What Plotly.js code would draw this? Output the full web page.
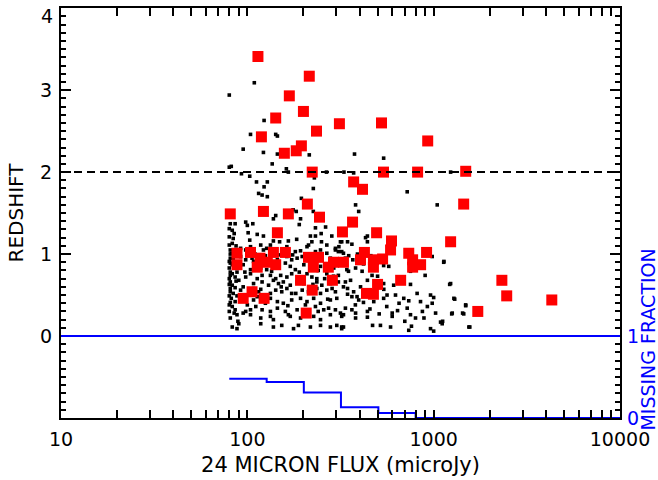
<!DOCTYPE html>
<html>
<head>
<meta charset="utf-8">
<script src="https://cdn.plot.ly/plotly-3.0.1.min.js"></script>
<style>html,body{margin:0;padding:0;background:#fff;}#chart{width:658px;height:480px;}</style>
</head>
<body>
<div id="chart"></div>
<script>
// ---- data ----
// all 24 micron sources: flux (microJy) and redshift
const allFlux = [
109,80,123,104,142,145,95,122,145,215,376,539,
136,82,80,162,93,103,166,266,330,372,1233,
229,112,128,123,226,721,115,120,128,195,
381,1045,396,176,183,226,142,138,193,190,232,263,
81,86,98,107,100,83,101,113,122,138,149,166,184,218,232,249,284,316,250,222,310,84,83,103,104,118,133,163,213,267,297,
431,441,441,321,345,364,
81,82,92,98,122,127,166,181,193,209,232,247,267,297,308,328,
81,84,92,98,106,108,122,145,163,173,185,197,213,247,279,316,336,
81,83,86,95,104,111,118,127,147,160,170,181,201,232,247,291,321,
81,83,86,98,104,113,120,133,142,151,163,173,188,209,222,236,267,308,
81,83,90,95,108,120,130,138,147,156,170,185,201,218,236,251,279,308,328,
81,84,92,108,115,133,142,153,163,173,197,213,236,247,267,297,
82,86,108,113,133,145,156,173,193,209,227,247,279,302,
83,86,98,104,111,120,133,145,160,166,185,232,257,273,297,316,
88,95,104,118,133,138,170,193,227,247,279,321,
83,90,88,118,138,153,177,188,218,247,279,302,321,
321,368,381,342,349,413,539,574,751,982,1135,467,441,336,358,539,751,405,1233,
372,431,345,364,388,396,562,624,539,477,652,691,735,815,850,962,982,1284,1485,
336,364,381,441,721,925,328,381,441,599,599,751,799,887,1024,1258,1430,
518,470,587,328,321,735,962,1000,1089,1111,1545,
1132,1219,1297,1486,1250,1450,1117,1563,
80,80,80,81,80,80,81,80,80,81,80,81,80,80,81,85,87,86,88,87,86,88,85,89,
110,125,150,175,205,228,97,135,190,240,118,152,182,225,260,100,125,165,205,240,270,285,290,300,
350,390,420,460,500,540,610,345,380,420,455,510,560,640,700,760,870,1000,900
];
const allZ = [
3.09,2.94,2.63,2.46,2.46,2.44,2.28,2.24,2.22,2.21,2.22,2.17,
2.10,2.07,2.06,2.04,1.98,1.95,2.00,2.00,2.00,1.99,2.00,
1.93,1.88,1.88,1.82,1.80,1.76,1.74,1.72,1.70,1.68,
1.60,1.60,1.52,1.54,1.52,1.52,1.47,1.43,1.43,1.36,1.32,1.33,
1.37,1.37,1.39,1.37,1.35,1.29,1.26,1.24,1.22,1.16,1.15,1.16,1.18,1.22,1.22,1.25,1.22,1.15,1.15,1.15,1.09,1.19,1.13,1.17,1.09,1.11,1.11,1.09,1.11,1.11,1.07,
1.20,1.22,1.15,1.15,1.15,1.12,
1.05,1.01,1.07,1.05,1.05,1.07,1.05,1.03,1.04,1.09,1.03,1.05,1.01,1.05,1.03,1.01,
0.95,0.93,0.97,0.93,0.95,0.91,0.95,0.93,0.97,0.93,0.95,0.97,0.93,0.93,0.95,0.93,0.95,
0.89,0.87,0.83,0.87,0.81,0.89,0.83,0.81,0.83,0.89,0.85,0.81,0.87,0.81,0.85,0.83,0.87,
0.74,0.76,0.72,0.72,0.76,0.70,0.74,0.74,0.70,0.74,0.72,0.76,0.72,0.76,0.72,0.70,0.76,0.74,
0.66,0.62,0.68,0.60,0.64,0.66,0.62,0.68,0.64,0.66,0.62,0.66,0.64,0.60,0.66,0.62,0.64,0.66,0.60,
0.58,0.52,0.56,0.58,0.54,0.52,0.56,0.54,0.58,0.52,0.56,0.54,0.58,0.52,0.56,0.54,
0.46,0.42,0.44,0.48,0.46,0.42,0.40,0.44,0.46,0.42,0.46,0.40,0.44,0.46,
0.36,0.32,0.30,0.32,0.36,0.32,0.30,0.34,0.30,0.26,0.32,0.36,0.32,0.34,0.32,0.28,
0.26,0.28,0.26,0.22,0.24,0.20,0.24,0.22,0.24,0.20,0.26,0.24,
0.11,0.15,0.09,0.15,0.11,0.13,0.09,0.13,0.11,0.13,0.11,0.13,0.11,
1.03,0.93,0.83,0.81,0.79,0.79,0.86,0.85,0.79,0.97,0.91,0.74,0.68,0.66,0.68,0.64,0.63,0.60,0.64,
0.54,0.54,0.51,0.48,0.48,0.44,0.50,0.50,0.46,0.42,0.40,0.46,0.43,0.52,0.42,0.50,0.40,0.46,0.38,
0.34,0.32,0.28,0.30,0.34,0.36,0.26,0.22,0.23,0.28,0.24,0.26,0.22,0.22,0.28,0.28,0.28,
0.13,0.13,0.11,0.11,0.09,0.07,0.09,0.06,0.17,0.15,0.11,
0.90,0.63,0.45,0.37,0.27,0.27,0.18,0.11,
1.31,1.21,1.11,1.00,0.91,0.83,0.78,0.70,0.63,0.54,0.49,0.41,0.38,0.30,0.22,1.25,1.10,1.00,0.78,0.67,0.59,0.49,0.28,0.18,
1.00,0.98,0.99,0.99,1.00,0.99,0.78,0.79,0.78,0.80,0.57,0.60,0.52,0.63,0.70,0.38,0.40,0.37,0.38,0.30,0.45,0.58,0.73,0.88,
0.98,1.00,0.88,0.98,0.73,0.57,0.62,0.58,0.38,0.41,0.33,0.27,0.36,0.31,0.18,0.12,0.30,0.47,0.74
];
// highlighted sources (red squares)
const redFlux = [
114,215,168,200,142,235,312,525,929,119,195,183,158,
223,538,820,1486,372,415,1449,
210,244,81,122,166,145,324,367,494,594,1233,
916,735,587,425,405,475,532,328,475,771,771,851,665,500,436,475,
88,104,138,160,213,241,290,88,113,128,142,117,226,272,193,286,223,106,95,123,207,
2323,2466,4305,1725
];
const redZ = [
3.41,3.17,2.93,2.74,2.66,2.50,2.59,2.60,2.38,2.43,2.32,2.26,2.23,
2.00,2.00,2.00,2.01,1.88,1.79,1.61,
1.61,1.45,1.49,1.52,1.49,1.26,1.27,1.39,1.26,1.16,1.15,
1.02,1.01,1.05,1.02,0.93,0.93,0.94,0.90,0.84,0.93,0.84,0.87,0.68,0.63,0.52,0.51,
1.01,1.02,1.02,1.02,0.96,0.96,0.90,0.87,0.84,0.90,0.87,0.95,0.84,0.84,0.68,0.68,0.56,0.54,0.46,0.46,0.28,
0.68,0.49,0.44,0.30
];
// missing fraction histogram (bin edges in microJy, fraction per bin)
const missEdges = [80,127,201,318,505,800,10000];
const missFrac  = [0.48,0.44,0.31,0.13,0.06,0,0];
const xTickVals = [10,100,1000,10000];
const xTickText = ['10','100','1000','10000'];
const yTickVals = [0,1,2,3,4];
const yTickText = ['0','1','2','3','4'];
const fracTickVals = [0,1];
const zCut = 2;

// ---- chart ----
const FONT = 'DejaVu Sans, sans-serif';
const yMax = yTickVals[yTickVals.length - 1];
// top label is drawn just below the frame (as in the original plot)
const yTickTextShown = yTickText.map((t, i) => i === yTickText.length - 1 ? '' : t);

const traces = [
  {x: missEdges, y: missFrac, yaxis:'y2', type:'scatter', mode:'lines',
   line:{shape:'hv', color:'#0000ff', width:2}, hoverinfo:'skip'},
  {x: allFlux, y: allZ, type:'scatter', mode:'markers',
   marker:{symbol:'square', size:3.6, color:'#000000', line:{width:0}}},
  {x: redFlux, y: redZ, type:'scatter', mode:'markers',
   marker:{symbol:'square', size:11, color:'#ff0000', line:{width:0}}}
];
const axisCommon = {
  showline:true, linecolor:'#000', linewidth:2, mirror:'allticks',
  ticks:'inside', tickcolor:'#000', tickwidth:2,
  showgrid:false, zeroline:false, ticklabeloverflow:'allow',
  tickfont:{family:FONT, size:19, color:'#000'}
};
const layout = {
  width:658, height:480,
  margin:{l:61, r:38, t:8, b:62},
  paper_bgcolor:'#fff', plot_bgcolor:'#fff',
  showlegend:false,
  xaxis: Object.assign({}, axisCommon, {
    type:'log', range:[1,4], tickmode:'array', tickvals:xTickVals, ticktext:xTickText,
    ticklen:8, ticklabelstandoff:3,
    minor:{dtick:'D1', ticks:'inside', ticklen:5, tickwidth:2, tickcolor:'#000'},
    title:{text:'24 MICRON FLUX (microJy)', font:{family:FONT, size:21, color:'#000'}, standoff:9}
  }),
  yaxis: Object.assign({}, axisCommon, {
    range:[-1,4.002], tickmode:'array', tickvals:yTickVals, ticktext:yTickTextShown, ticklen:10,
    ticklabelstandoff:3,
    minor:{tick0:0, dtick:0.1, ticks:'inside', ticklen:5, tickwidth:2, tickcolor:'#000'},
    title:{text:'REDSHIFT', font:{family:FONT, size:20, color:'#000'}, standoff:11}
  }),
  yaxis2: {
    overlaying:'y', side:'right', range:[0,5.002], tickmode:'array', tickvals:fracTickVals,
    showline:false, showgrid:false, zeroline:false, ticks:'', ticklabeloverflow:'allow',
    ticklabelstandoff:6,
    tickfont:{family:FONT, size:19, color:'#0000ff'}
  },
  shapes:[
    {type:'line', xref:'paper', x0:0, x1:1, yref:'y', y0:zCut, y1:zCut,
     line:{color:'#000', width:2, dash:'8px,5px'}, layer:'above'},
    {type:'line', xref:'paper', x0:0, x1:1, yref:'y', y0:0, y1:0,
     line:{color:'#0000ff', width:2}, layer:'above'}
  ],
  annotations:[
    {text:yTickText[yTickText.length - 1], xref:'paper', yref:'y', x:0, y:yMax,
     xanchor:'right', yanchor:'top', xshift:-6, yshift:5, showarrow:false,
     font:{family:FONT, size:19, color:'#000'}},
    {text:'MISSING FRACTION', xref:'paper', yref:'paper', x:1.051, y:0.19,
     xanchor:'center', yanchor:'middle', textangle:-90, showarrow:false,
     font:{family:FONT, size:19, color:'#0000ff'}}
  ]
};
Plotly.newPlot('chart', traces, layout, {staticPlot:true, displayModeBar:false});
</script>
</body>
</html>
